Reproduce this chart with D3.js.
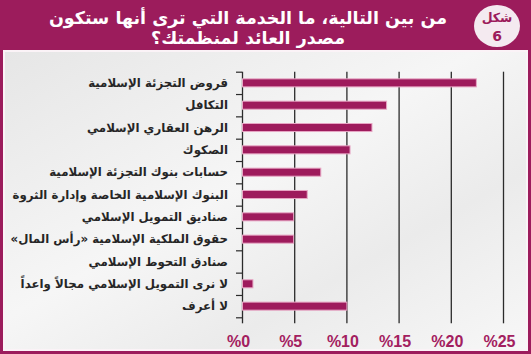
<!DOCTYPE html>
<html>
<head>
<meta charset="utf-8">
<script src="https://cdn.jsdelivr.net/npm/d3@7"></script>
<style>
  html, body { margin: 0; padding: 0; background: #fff; }
  svg { display: block; }
</style>
</head>
<body>
<div id="chart"></div>
<script>
// Data
const categories = [
  "قروض التجزئة الإسلامية",
  "التكافل",
  "الرهن العقاري الإسلامي",
  "الصكوك",
  "حسابات بنوك التجزئة الإسلامية",
  "البنوك الإسلامية الخاصة وإدارة الثروة",
  "صناديق التمويل الإسلامي",
  "حقوق الملكية الإسلامية «رأس المال»",
  "صنادق التحوط الإسلامي",
  "لا نرى التمويل الإسلامي مجالاً واعداً",
  "لا أعرف"
];
const values = [22.4, 13.8, 12.4, 10.3, 7.5, 6.2, 4.9, 4.9, 0, 1.0, 10];
const tickValues = [0, 5, 10, 15, 20, 25];
const titleLines = ["من بين التالية، ما الخدمة التي ترى أنها ستكون", "مصدر العائد لمنظمتك؟"];

const W = 531, H = 354;
const maroon = "#9c1c5c";

const svg = d3.select("#chart").append("svg")
  .attr("width", W)
  .attr("height", H);

// background gradient
const defs = svg.append("defs");
const grad = defs.append("linearGradient")
  .attr("id", "bg")
  .attr("x1", "0").attr("y1", "0").attr("x2", "1").attr("y2", "1");
grad.append("stop").attr("offset", "0").attr("stop-color", "#e6e6e6");
grad.append("stop").attr("offset", "0.45").attr("stop-color", "#f6f6f6");
grad.append("stop").attr("offset", "0.7").attr("stop-color", "#ebebeb");
grad.append("stop").attr("offset", "1").attr("stop-color", "#f7f7f7");

// frame
svg.append("rect").attr("width", W).attr("height", H).attr("fill", maroon);
svg.append("rect").attr("x", 3).attr("y", 50).attr("width", W - 6).attr("height", H - 53)
  .attr("fill", "#fbf3f7");
svg.append("rect").attr("x", 5).attr("y", 52).attr("width", W - 10).attr("height", H - 57)
  .attr("fill", "url(#bg)");

// header title
svg.append("g").selectAll("text")
  .data(titleLines)
  .join("text")
  .attr("x", 248)
  .attr("y", (d, i) => 24 + i * 20)
  .attr("text-anchor", "middle")
  .attr("direction", "rtl")
  .style("font-family", "DejaVu Sans")
  .style("font-weight", "bold")
  .style("font-size", "17.5px")
  .attr("fill", "#fff")
  .text(d => d);

// badge
svg.append("ellipse")
  .attr("cx", 497).attr("cy", 26).attr("rx", 23).attr("ry", 21)
  .attr("fill", "#f4eaf0");
svg.append("text")
  .attr("x", 497).attr("y", 22)
  .attr("text-anchor", "middle")
  .style("font-family", "DejaVu Sans")
  .style("font-weight", "bold")
  .style("font-size", "12.5px")
  .attr("fill", maroon)
  .text("شكل");
svg.append("text")
  .attr("x", 497).attr("y", 41)
  .attr("text-anchor", "middle")
  .style("font-family", "DejaVu Sans")
  .style("font-weight", "bold")
  .style("font-size", "14px")
  .attr("fill", maroon)
  .text("6");

// scales
const plotTop = 71.7, plotBottom = 317.3;
const x = d3.scaleLinear().domain([0, 25]).range([242, 503]);
const y = d3.scaleBand()
  .domain(categories)
  .range([plotTop, plotBottom])
  .paddingInner(0.64)
  .paddingOuter(0.32);
const yIdx = d3.scaleLinear().domain([0, categories.length]).range([plotTop, plotBottom]);

// grid lines + bottom labels
const xAxis = svg.append("g")
  .attr("transform", `translate(0,${plotBottom + 6})`)
  .call(d3.axisBottom(x)
    .tickValues(tickValues)
    .tickSize(-(plotBottom + 6 - plotTop))
    .tickPadding(12)
    .tickFormat(d => "%" + d));
xAxis.select(".domain").remove();
xAxis.selectAll(".tick line")
  .attr("stroke", "#2b2b2b")
  .attr("stroke-width", 1.3);
xAxis.selectAll(".tick text")
  .attr("dx", -4)
  .attr("direction", "ltr")
  .style("font-family", "Liberation Sans")
  .style("font-weight", "bold")
  .style("font-size", "16px")
  .attr("fill", "#a3205f");

// left tick marks at band boundaries
const yAxis = svg.append("g")
  .attr("transform", `translate(${x(0)},0)`)
  .call(d3.axisLeft(yIdx).ticks(categories.length).tickSize(6).tickFormat(""));
yAxis.select(".domain").remove();
yAxis.selectAll(".tick line").attr("stroke", "#2b2b2b").attr("stroke-width", 1.2);

// bars
svg.append("g").selectAll("rect")
  .data(categories)
  .join("rect")
  .attr("x", x(0) + 0.5)
  .attr("y", d => y(d))
  .attr("width", (d, i) => Math.max(0, x(values[i]) - x(0)))
  .attr("height", y.bandwidth())
  .attr("fill", "#9e1b5c")
  .attr("stroke", (d, i) => values[i] > 0 ? "#e7a6c4" : "none")
  .attr("stroke-width", 1);

// category labels
svg.append("g").selectAll("text")
  .data(categories)
  .join("text")
  .attr("x", 228)
  .attr("y", d => y(d) + y.bandwidth() / 2)
  .attr("dy", "0.35em")
  .attr("text-anchor", "start")
  .attr("direction", "rtl")
  .style("font-family", "DejaVu Sans")
  .style("font-weight", "bold")
  .style("font-size", "11.8px")
  .attr("fill", "#262626")
  .text(d => d);
</script>
</body>
</html>
